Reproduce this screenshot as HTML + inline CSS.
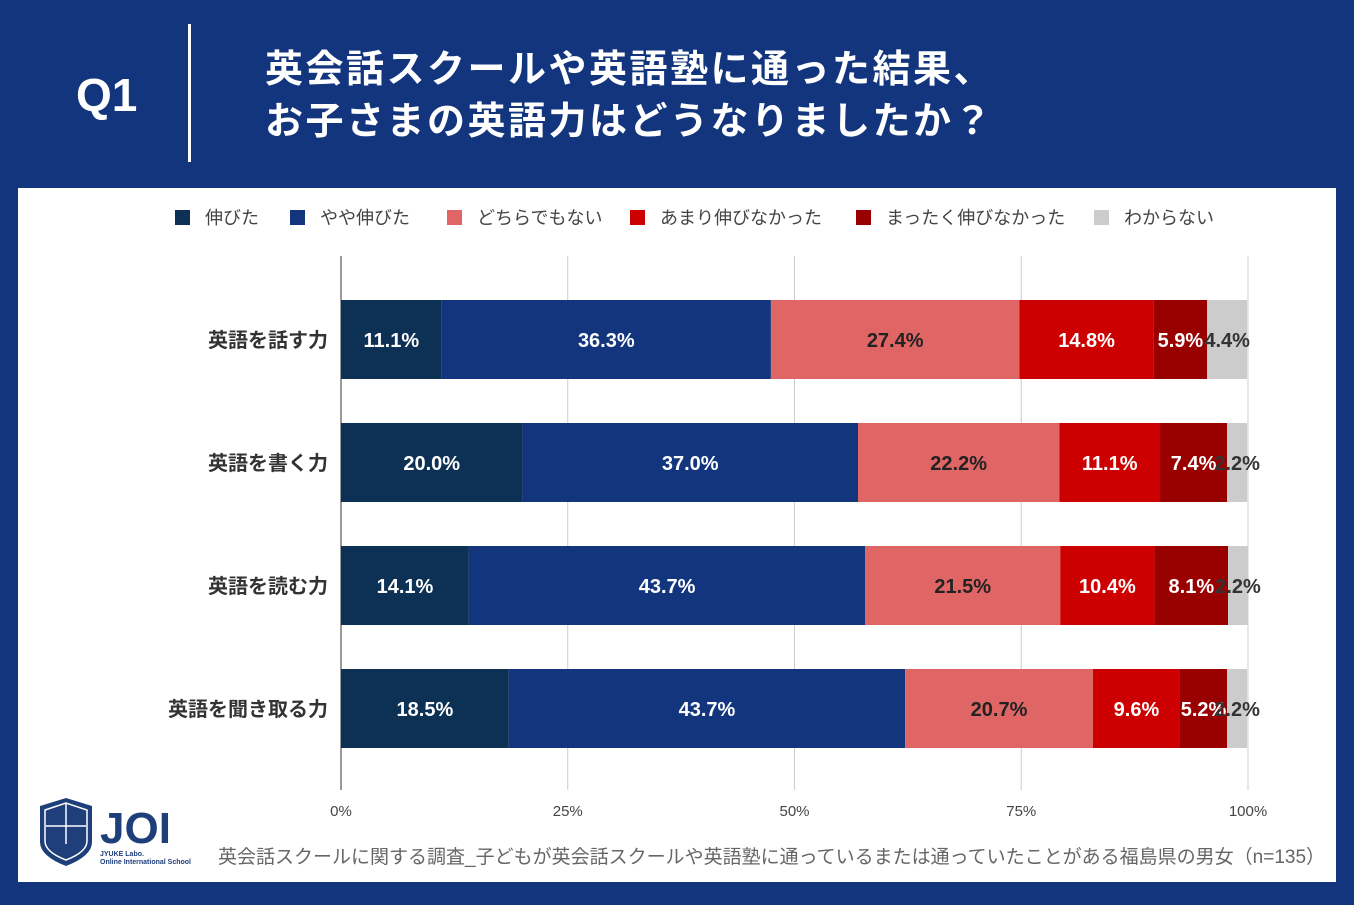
<!DOCTYPE html>
<html><head><meta charset="utf-8"><style>
body{margin:0;width:1354px;height:905px;background:#12357e;overflow:hidden;font-family:"Liberation Sans","Noto Sans CJK JP",sans-serif;position:relative}
.t{position:absolute;white-space:nowrap}
</style></head><body>
<div class="t" style="left:76px;top:68px;color:#fff;font-size:46px;font-weight:bold">Q1</div>
<div style="position:absolute;left:188px;top:24px;width:3px;height:138px;background:#fff"></div>
<div class="t" style="left:265px;top:44px;color:#fff;font-size:38px;font-weight:bold;line-height:52px;letter-spacing:2.5px">英会話スクールや英語塾に通った結果、<br>お子さまの英語力はどうなりましたか？</div>
<div style="position:absolute;left:18px;top:188px;width:1318px;height:694px;background:#fff"></div>
<svg id="c" width="1354" height="905" style="position:absolute;left:0;top:0" font-family="Liberation Sans, Noto Sans CJK JP, sans-serif"></svg>
<svg style="position:absolute;left:38px;top:798px" width="160" height="70">
<path d="M2 8 L28 0 L54 8 L54 44 Q54 58 28 68 Q2 58 2 44 Z" fill="#1f3f7a"/>
<path d="M7 12 L28 5 L49 12 L49 43 Q49 54 28 62 Q7 54 7 43 Z" fill="none" stroke="#fff" stroke-width="1.5"/>
<line x1="28" y1="6" x2="28" y2="46" stroke="#fff" stroke-width="1.5"/><line x1="8" y1="28" x2="48" y2="28" stroke="#fff" stroke-width="1.5"/>
<text x="62" y="45" font-size="44" font-weight="bold" fill="#1f3f7a" font-family="Liberation Sans">JOI</text>
<text x="62" y="58" font-size="7" font-weight="bold" fill="#1f3f7a">JYUKE Labo.</text>
<text x="62" y="66" font-size="7" font-weight="bold" fill="#1f3f7a">Online International School</text>
</svg>
<div class="t" style="left:218px;top:842px;color:#666;font-size:19px">英会話スクールに関する調査_子どもが英会話スクールや英語塾に通っているまたは通っていたことがある福島県の男女（n=135）</div>
<script>
const categories=["英語を話す力","英語を書く力","英語を読む力","英語を聞き取る力"];
const seriesNames=["伸びた","やや伸びた","どちらでもない","あまり伸びなかった","まったく伸びなかった","わからない"];
const s1=[11.1,20.0,14.1,18.5];
const s2=[36.3,37.0,43.7,43.7];
const s3=[27.4,22.2,21.5,20.7];
const s4=[14.8,11.1,10.4,9.6];
const s5=[5.9,7.4,8.1,5.2];
const s6=[4.4,2.2,2.2,2.2];
const ticks=[0,25,50,75,100];
const colors=["#0d3055","#12357e","#e06666","#cc0000","#990000","#cccccc"];
const textColors=["#fff","#fff","#222","#fff","#fff","#333"];
const series=[s1,s2,s3,s4,s5,s6];
const svg=document.getElementById('c');const NS="http://www.w3.org/2000/svg";
function x(v){return 341+v*(1248-341)/100;}
function yRow(i){return 300+i*123;}
function mk(t,a,p){const e=document.createElementNS(NS,t);for(const k in a)e.setAttribute(k,a[k]);(p||svg).appendChild(e);return e;}
ticks.forEach(t=>{
 const g=mk('line',{x1:x(t),x2:x(t),y1:256,y2:790,stroke:t===0?'#333':'#ccc','stroke-width':1});
 
 
 const l=mk('text',{x:x(t),y:816,'text-anchor':'middle','font-size':15,fill:'#444'});l.textContent=t+'%';
 
 
});
const legX=[175,290,447,630,856,1094];
seriesNames.forEach((n,i)=>{
 const r=mk('rect',{x:legX[i],y:210,width:15,height:15,fill:colors[i]});
 
 
 const t=mk('text',{x:legX[i]+30,y:224,'font-size':18,fill:'#444'});t.textContent=n;
 
 
});
categories.forEach((c,i)=>{
 const y=yRow(i);
 const t=mk('text',{x:328,y:y+47,'text-anchor':'end','font-size':20,fill:'#333','font-weight':'bold'});t.textContent=c;
 
 
 let acc=0;
 series.forEach((s,j)=>{
  const v=s[i];
  const r=mk('rect',{x:x(acc),y:y,width:x(acc+v)-x(acc),height:79,fill:colors[j]});
  
  
  const l=mk('text',{x:(x(acc)+x(acc+v))/2,y:y+47,'text-anchor':'middle','font-size':20,'font-weight':'bold',fill:textColors[j]});
  l.textContent=v.toFixed(1)+'%';
  
  
  acc+=v;
 });
});
</script>
</body></html>
